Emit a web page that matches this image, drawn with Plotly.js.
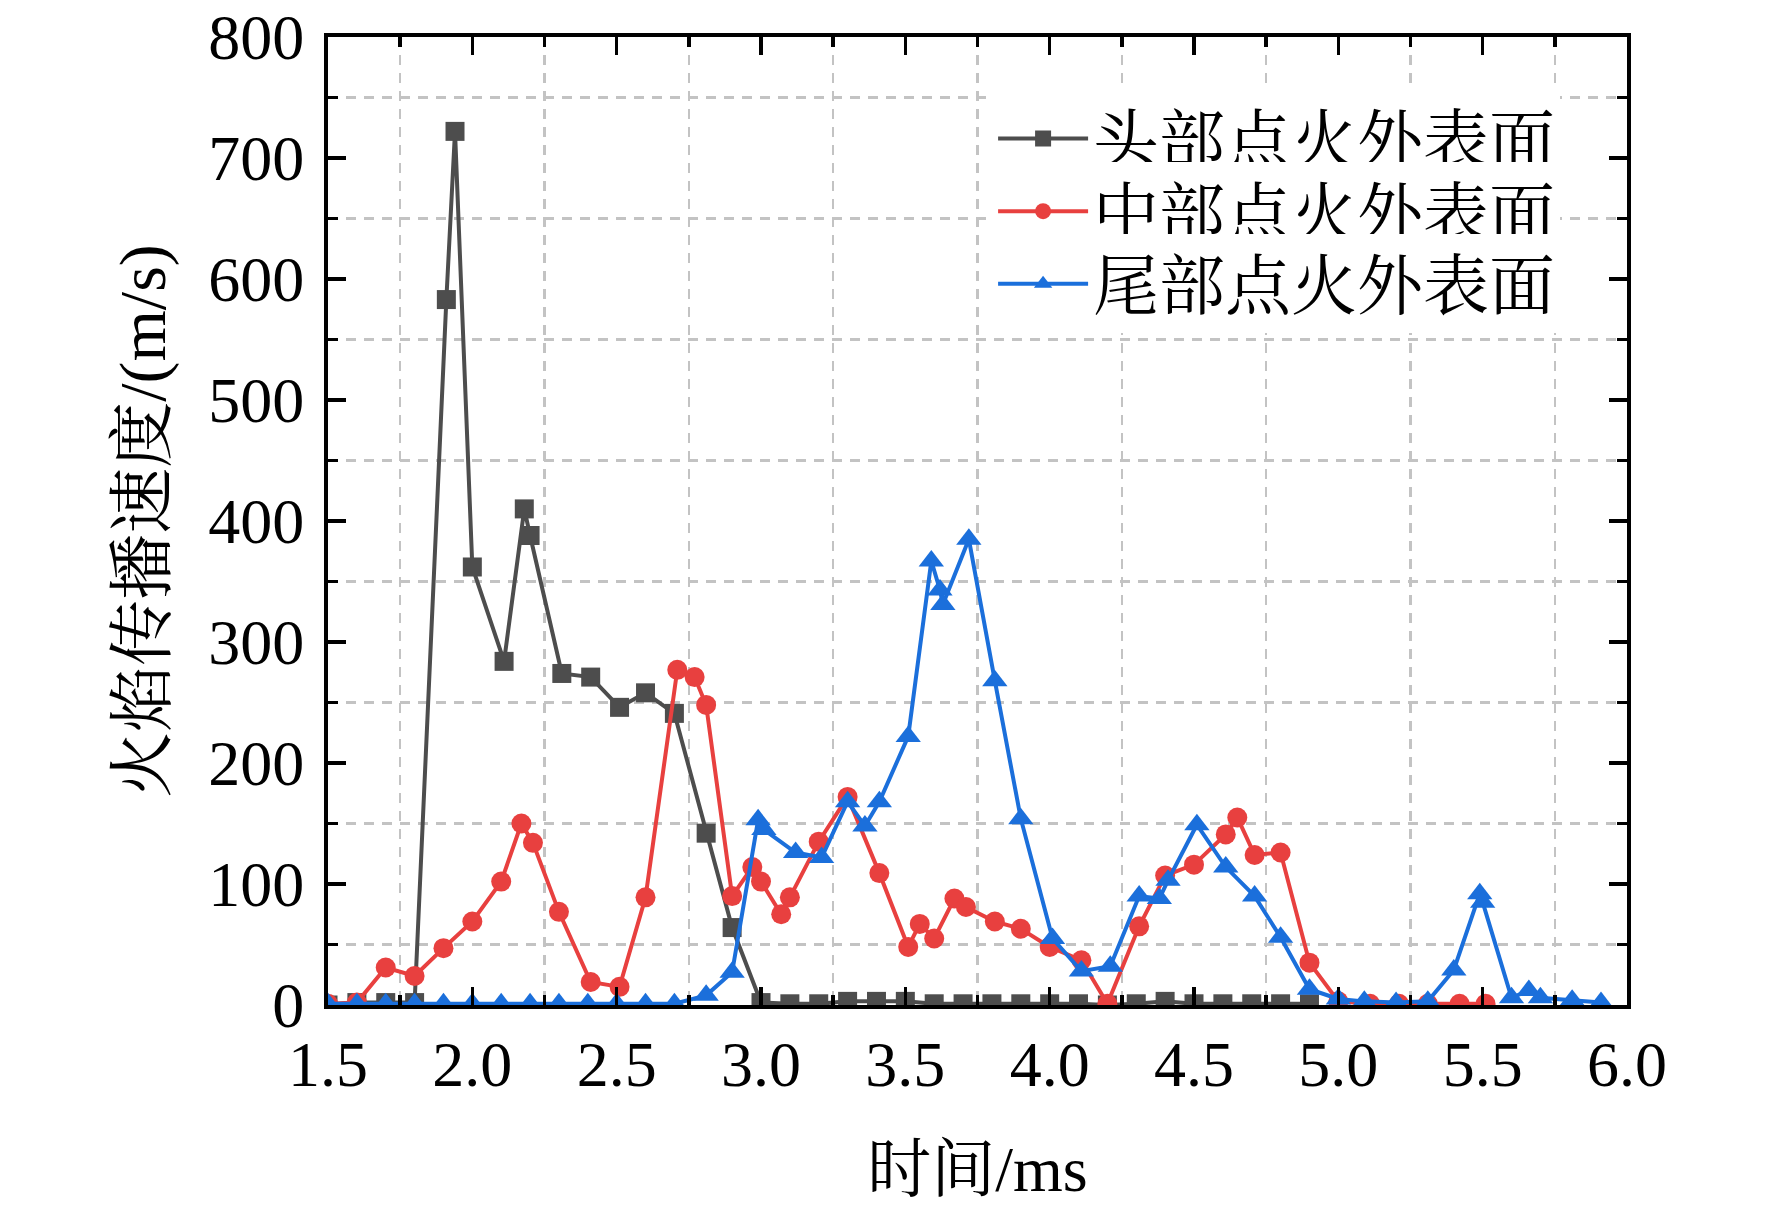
<!DOCTYPE html>
<html>
<head>
<meta charset="utf-8">
<script src="https://cdn.plot.ly/plotly-3.0.1.min.js"></script>
<style>html,body{margin:0;padding:0;background:#fff;}#chart{width:1772px;height:1205px;}</style>
</head>
<body>
<div id="chart"></div>
<script>
// Series names
const seriesNames = ['头部点火外表面', '中部点火外表面', '尾部点火外表面'];

// 头部点火外表面 (head ignition)
const headTime = [1.5, 1.6, 1.7, 1.8, 1.91, 1.94, 2.0, 2.11, 2.18, 2.2, 2.31, 2.41, 2.51, 2.6, 2.7, 2.81, 2.9, 3.0, 3.1, 3.2, 3.3, 3.4, 3.5, 3.6, 3.7, 3.8, 3.9, 4.0, 4.1, 4.2, 4.3, 4.4, 4.5, 4.6, 4.7, 4.8, 4.9];
const headSpeed = [0, 2, 2, 2, 583, 722, 362, 284, 410, 388, 274, 271, 246, 258, 241, 142, 64, 2, 1, 1, 3, 3, 3, 1, 1, 1, 1, 1, 1, 0, 1, 3, 1, 1, 1, 1, 1];

// 中部点火外表面 (middle ignition)
const midTime = [1.5, 1.6, 1.7, 1.8, 1.9, 2.0, 2.1, 2.17, 2.21, 2.3, 2.41, 2.51, 2.6, 2.71, 2.77, 2.81, 2.9, 2.97, 3.0, 3.07, 3.1, 3.2, 3.3, 3.41, 3.51, 3.55, 3.6, 3.67, 3.71, 3.81, 3.9, 4.0, 4.11, 4.2, 4.31, 4.4, 4.5, 4.61, 4.65, 4.71, 4.8, 4.9, 5.0, 5.11, 5.21, 5.31, 5.42, 5.51];
const midSpeed = [1, 2, 31, 24, 47, 69, 102, 150, 134, 77, 19, 15, 89, 277, 271, 248, 90, 114, 102, 75, 89, 135, 172, 109, 48, 67, 55, 88, 81, 69, 63, 48, 37, 1, 65, 107, 116, 141, 155, 124, 126, 35, 3, 1, 1, 1, 1, 1];

// 尾部点火外表面 (tail ignition)
const tailTime = [1.5, 1.6, 1.7, 1.8, 1.9, 2.0, 2.1, 2.2, 2.3, 2.4, 2.5, 2.6, 2.7, 2.81, 2.9, 2.99, 3.01, 3.12, 3.21, 3.3, 3.36, 3.41, 3.51, 3.59, 3.62, 3.63, 3.72, 3.81, 3.9, 4.01, 4.11, 4.21, 4.31, 4.38, 4.41, 4.51, 4.61, 4.71, 4.8, 4.9, 5.0, 5.09, 5.2, 5.31, 5.4, 5.49, 5.5, 5.6, 5.66, 5.7, 5.81, 5.91];
const tailSpeed = [1, 1, 1, 1, 1, 1, 1, 1, 1, 1, 1, 1, 1, 8, 27, 153, 145, 126, 122, 168, 148, 168, 222, 367, 343, 331, 385, 268, 154, 55, 28, 32, 90, 88, 103, 149, 114, 90, 56, 13, 5, 3, 2, 3, 29, 92, 85, 6, 12, 6, 4, 2];

// Axis tick labels
const xTickVals = [1.5, 2.0, 2.5, 3.0, 3.5, 4.0, 4.5, 5.0, 5.5, 6.0];
const xTickText = ['1.5', '2.0', '2.5', '3.0', '3.5', '4.0', '4.5', '5.0', '5.5', '6.0'];
const yTickVals = [0, 100, 200, 300, 400, 500, 600, 700, 800];
const yTickText = ['0', '100', '200', '300', '400', '500', '600', '700', '800'];
const xTitle = '时间/ms';
const yTitle = '火焰传播速度/(m/s)';

const colors = ['#4d4d4d', '#e8403f', '#1b6fdb'];
const symbols = ['square', 'circle', 'triangle-up'];
const msizes = [19, 20, 22];
const legendIds = ['legend', 'legend2', 'legend3'];
const xs = [headTime, midTime, tailTime];
const ys = [headSpeed, midSpeed, tailSpeed];

const serif = '"Liberation Serif", "Times New Roman", "Noto Serif CJK SC", "Noto Sans CJK SC", serif';

const traces = seriesNames.map((n, i) => ({
  type: 'scatter', mode: 'lines+markers', name: n,
  x: xs[i], y: ys[i], legend: legendIds[i],
  line: {color: colors[i], width: 4},
  marker: {color: colors[i], symbol: symbols[i], size: msizes[i], line: {width: 0}},
  cliponaxis: true
}));

function legendAt(yc) {
  return {
    x: 0.512, xanchor: 'left', y: yc, yanchor: 'middle',
    bgcolor: '#fff', borderwidth: 0,
    font: {family: serif, size: 66, color: '#000'},
    itemwidth: 90
  };
}

const gridDash = '10px,8px';
const layout = {
  width: 1772, height: 1205,
  margin: {l: 328, r: 145, t: 37, b: 200},
  paper_bgcolor: '#fff', plot_bgcolor: '#fff',
  showlegend: true,
  font: {family: serif, color: '#000'},
  legend: legendAt(0.895),
  legend2: legendAt(0.82),
  legend3: legendAt(0.745),
  xaxis: {
    range: [1.5, 6.0],
    tickmode: 'array', tickvals: xTickVals, ticktext: xTickText,
    ticks: 'inside', ticklen: 18, tickwidth: 3.5, tickcolor: '#000',
    showline: true, linecolor: '#000', linewidth: 4, mirror: 'ticks',
    showgrid: false, zeroline: false,
    tickfont: {family: serif, size: 64, color: '#000'},
    ticklabelstandoff: 0, ticklabeloverflow: 'allow',
    minor: {dtick: 0.5, tick0: 1.75, ticks: 'inside', ticklen: 10, tickwidth: 3.5, tickcolor: '#000',
            showgrid: true, gridcolor: '#c3c3c3', gridwidth: 2.5, griddash: gridDash},
    title: {text: xTitle, font: {family: serif, size: 64, color: '#000'}, standoff: 58}
  },
  yaxis: {
    range: [0, 800],
    tickmode: 'array', tickvals: yTickVals, ticktext: yTickText,
    ticks: 'inside', ticklen: 18, tickwidth: 3.5, tickcolor: '#000',
    showline: true, linecolor: '#000', linewidth: 4, mirror: 'ticks',
    showgrid: false, zeroline: false,
    tickfont: {family: serif, size: 64, color: '#000'},
    ticklabelstandoff: 7, ticklabeloverflow: 'allow',
    minor: {dtick: 100, tick0: 50, ticks: 'inside', ticklen: 10, tickwidth: 3.5, tickcolor: '#000',
            showgrid: true, gridcolor: '#c3c3c3', gridwidth: 2.5, griddash: gridDash},
    title: {text: yTitle, font: {family: serif, size: 66, color: '#000'}, standoff: 22}
  }
};

Plotly.newPlot('chart', traces, layout, {staticPlot: true, displayModeBar: false});
</script>
</body>
</html>
